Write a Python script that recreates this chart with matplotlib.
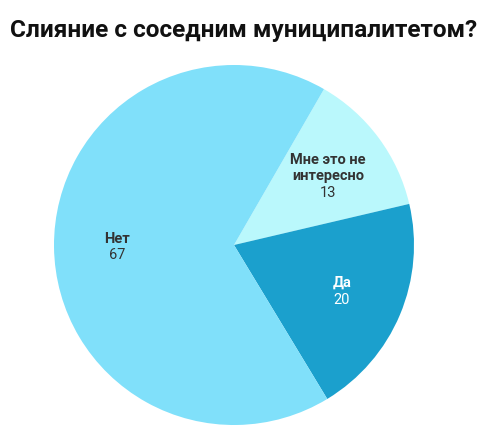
import textwrap
import numpy as np
import matplotlib
matplotlib.use("Agg")
import matplotlib.pyplot as plt

plt.rcParams['font.family'] = ['Roboto', 'DejaVu Sans']

title = "Слияние с соседним муниципалитетом?"
categories = ["Мне это не интересно", "Да", "Нет"]
values = [13, 20, 67]
colors = ["#BAF8FC", "#1BA0CD", "#80E0FA"]
text_colors = ["#333333", "#FFFFFF", "#333333"]

W, H = 500, 439
fig = plt.figure(figsize=(W / 100, H / 100), dpi=100)
cx, cy, r = 234, H - 246, 180
ax = fig.add_axes([(cx - r) / W, (cy - r) / H, 2 * r / W, 2 * r / H])
wedges, _ = ax.pie(values, colors=colors, startangle=60, counterclock=False,
                   wedgeprops=dict(linewidth=0), radius=1)
ax.set_xlim(-1, 1)
ax.set_ylim(-1, 1)
ax.set_aspect('equal')
ax.axis('off')

line_h = 16.5 / r
for w, cat, val, tc in zip(wedges, categories, values, text_colors):
    mid = np.deg2rad((w.theta1 + w.theta2) / 2)
    x, y = 0.65 * np.cos(mid), 0.65 * np.sin(mid)
    lines = textwrap.wrap(cat, 11)
    n = len(lines) + 1
    top = y + (n - 1) * line_h / 2
    for i, ln in enumerate(lines):
        ax.text(x, top - i * line_h, ln, ha='center', va='center',
                fontsize=10.5, fontweight='bold', color=tc)
    ax.text(x, top - len(lines) * line_h, str(val), ha='center', va='center',
            fontsize=10.5, color=tc)

fig.text(10 / W, 1 - 30 / H, title, ha='left', va='center',
         fontsize=17.6, fontweight='bold', color='#111111')

fig.savefig("out.png", dpi=100, facecolor='white')
